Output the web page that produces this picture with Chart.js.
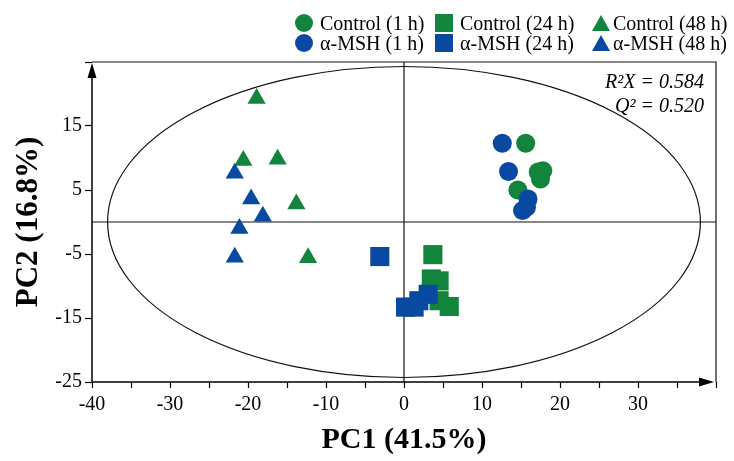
<!DOCTYPE html>
<html>
<head>
<meta charset="utf-8">
<script src="https://cdn.jsdelivr.net/npm/chart.js@4/dist/chart.umd.min.js"></script>
<style>
html,body{margin:0;padding:0;background:#fff;}
#wrap{position:relative;width:734px;height:461px;overflow:hidden;}
#c{position:absolute;left:0;top:0;}
.lg{position:absolute;display:flex;align-items:center;font-family:'Liberation Serif','Times New Roman',serif;font-size:20px;color:#000;white-space:nowrap;line-height:20px;}
.sym{display:inline-block;margin-right:7px;flex:none;}
</style>
</head>
<body>
<div id="wrap">
<canvas id="c" width="734" height="461"></canvas>
</div>
<script>
// ---------- data ----------
const seriesNames = ['Control (1 h)', 'Control (24 h)', 'Control (48 h)', 'α-MSH (1 h)', 'α-MSH (24 h)', 'α-MSH (48 h)'];
const GREEN = '#13843c';
const BLUE = '#0a49a2';

const control1h_x = [15.6, 17.8, 17.5, 17.2, 14.6];
const control1h_y = [12.3, 8.0, 6.7, 7.8, 5.0];
const msh1h_x = [12.6, 13.4, 15.9, 15.7, 15.2];
const msh1h_y = [12.3, 7.9, 3.6, 2.3, 1.8];

const control24h_x = [3.7, 3.5, 4.5, 5.8, 4.5];
const control24h_y = [-5.1, -8.9, -9.2, -13.2, -12.3];
const msh24h_x = [-3.1, 3.1, 1.9, 0.2, 1.3];
const msh24h_y = [-5.4, -11.3, -12.3, -13.3, -13.3];

const control48h_x = [-18.9, -20.6, -16.2, -13.8, -12.3];
const control48h_y = [19.3, 9.6, 9.8, 2.8, -5.6];
const msh48h_x = [-21.7, -19.6, -18.1, -21.1, -21.7];
const msh48h_y = [7.6, 3.6, 0.9, -1.0, -5.5];

const xTickValues = [-40, -35, -30, -25, -20, -15, -10, -5, 0, 5, 10, 15, 20, 25, 30, 35, 40];
const xTickLabels = ['-40', '', '-30', '', '-20', '', '-10', '', '0', '', '10', '', '20', '', '30', '', ''];
const yTickValues = [-25, -15, -5, 5, 15, 25];
const yTickLabels = ['-25', '-15', '-5', '5', '15', ''];

const xTitle = 'PC1 (41.5%)';
const yTitle = 'PC2 (16.8%)';
const statLines = ['R²X = 0.584', 'Q² = 0.520'];
const ellipseA = 38.0;   // semi-axis along PC1
const ellipseB = 24.3;   // semi-axis along PC2

// ---------- helpers ----------
const pts = (xs, ys) => xs.map((v, i) => ({x: v, y: ys[i]}));
const SERIF = "'Liberation Serif','Times New Roman',serif";

const datasets = [
  {label: seriesNames[0], data: pts(control1h_x, control1h_y), pointStyle: 'circle', pointRadius: 9.5, backgroundColor: GREEN, order: 1},
  {label: seriesNames[1], data: pts(control24h_x, control24h_y), pointStyle: 'rect', pointRadius: 13.5, backgroundColor: GREEN, order: 1},
  {label: seriesNames[2], data: pts(control48h_x, control48h_y), pointStyle: 'triangle', pointRadius: 10.5, backgroundColor: GREEN, order: 1},
  {label: seriesNames[3], data: pts(msh1h_x, msh1h_y), pointStyle: 'circle', pointRadius: 9.5, backgroundColor: BLUE, order: 0},
  {label: seriesNames[4], data: pts(msh24h_x, msh24h_y), pointStyle: 'rect', pointRadius: 13.5, backgroundColor: BLUE, order: 0},
  {label: seriesNames[5], data: pts(msh48h_x, msh48h_y), pointStyle: 'triangle', pointRadius: 10.5, backgroundColor: BLUE, order: 0},
];
datasets.forEach(d => { d.borderWidth = 0; d.borderColor = d.backgroundColor; d.pointHoverRadius = d.pointRadius; });

// ---------- decorations plugin ----------
const decor = {
  id: 'decor',
  beforeDatasetsDraw(chart) {
    const {ctx, chartArea: a, scales: {x, y}} = chart;
    const x0 = x.getPixelForValue(0), y0 = y.getPixelForValue(0);
    ctx.save();
    ctx.strokeStyle = '#111';
    ctx.lineWidth = 1.2;
    // frame top & right
    ctx.beginPath();
    ctx.moveTo(a.left, a.top); ctx.lineTo(a.right, a.top); ctx.lineTo(a.right, a.bottom);
    ctx.stroke();
    // cross lines
    ctx.beginPath();
    ctx.moveTo(x0, a.top); ctx.lineTo(x0, a.bottom);
    ctx.moveTo(a.left, y0); ctx.lineTo(a.right, y0);
    ctx.stroke();
    // confidence ellipse
    const rx = x.getPixelForValue(ellipseA) - x0;
    const ry = y0 - y.getPixelForValue(ellipseB);
    ctx.beginPath();
    ctx.ellipse(x0, y0, rx, ry, 0, 0, Math.PI * 2);
    ctx.stroke();
    // axes with arrows
    ctx.lineWidth = 1.5;
    ctx.strokeStyle = '#000';
    ctx.beginPath();
    ctx.moveTo(a.left, a.bottom); ctx.lineTo(a.left, a.top + 8);
    ctx.moveTo(a.left, a.bottom); ctx.lineTo(a.right - 8, a.bottom);
    ctx.stroke();
    ctx.fillStyle = '#000';
    ctx.beginPath();
    ctx.moveTo(a.left, a.top + 1); ctx.lineTo(a.left - 4.5, a.top + 16); ctx.lineTo(a.left + 4.5, a.top + 16); ctx.closePath();
    ctx.fill();
    ctx.beginPath();
    ctx.moveTo(a.right - 2, a.bottom); ctx.lineTo(a.right - 17, a.bottom - 4.5); ctx.lineTo(a.right - 17, a.bottom + 4.5); ctx.closePath();
    ctx.fill();
    ctx.restore();
  },
  afterDatasetsDraw(chart) {
    const {ctx, chartArea: a} = chart;
    ctx.save();
    ctx.fillStyle = '#000';
    ctx.font = 'italic 20px ' + SERIF;
    ctx.textAlign = 'right';
    ctx.textBaseline = 'alphabetic';
    ctx.fillText(statLines[0], a.right - 12, a.top + 26);
    ctx.fillText(statLines[1], a.right - 12, a.top + 50);
    ctx.restore();
  }
};

// ---------- chart ----------
new Chart(document.getElementById('c'), {
  type: 'scatter',
  data: {datasets},
  options: {
    responsive: false,
    animation: false,
    events: [],
    layout: {padding: {top: 62, right: 18, left: 0, bottom: 0}},
    plugins: {legend: {display: false}, tooltip: {enabled: false}},
    scales: {
      x: {
        type: 'linear', min: -40, max: 40,
        afterBuildTicks: s => { s.ticks = xTickValues.map(v => ({value: v})); },
        afterFit: s => { s.height = 79; },
        border: {display: false},
        grid: {drawOnChartArea: false, drawTicks: true, tickLength: 6, tickColor: '#000', tickWidth: 1.2},
        ticks: {
          autoSkip: false, maxRotation: 0, padding: 5, color: '#000',
          font: {family: SERIF, size: 20},
          callback: (v) => { const i = xTickValues.indexOf(v); return i >= 0 ? xTickLabels[i] : ''; }
        },
        title: {display: true, text: xTitle, color: '#000', font: {family: SERIF, size: 30, weight: 'bold'}, padding: {top: 0, bottom: 3}}
      },
      y: {
        type: 'linear', min: -25, max: 25,
        afterBuildTicks: s => { s.ticks = yTickValues.map(v => ({value: v})); },
        afterFit: s => { s.width = 92; },
        border: {display: false},
        grid: {drawOnChartArea: false, drawTicks: true, tickLength: 7, tickColor: '#000', tickWidth: 1.2},
        ticks: {
          autoSkip: false, padding: 3, color: '#000',
          font: {family: SERIF, size: 20},
          callback: (v) => { const i = yTickValues.indexOf(v); return i >= 0 ? yTickLabels[i] : ''; }
        },
        title: {display: true, text: yTitle, color: '#000', font: {family: SERIF, size: 31, weight: 'bold'}, padding: {top: 10, bottom: 0}}
      }
    }
  },
  plugins: [decor]
});

// ---------- legend (HTML, built from series arrays) ----------
const legendColors = [GREEN, GREEN, GREEN, BLUE, BLUE, BLUE];
const legendShapes = ['circle', 'rect', 'triangle', 'circle', 'rect', 'triangle'];
const colLeft = [295, 435, 592];
const rowTop = [13, 33];
const wrap = document.getElementById('wrap');
seriesNames.forEach((name, i) => {
  const el = document.createElement('div');
  el.className = 'lg';
  el.style.left = colLeft[i % 3] + 'px';
  el.style.top = rowTop[Math.floor(i / 3)] + 'px';
  const s = document.createElement('span');
  s.className = 'sym';
  const c = legendColors[i];
  if (legendShapes[i] === 'circle') {
    s.style.cssText += `width:18px;height:18px;border-radius:50%;background:${c};`;
  } else if (legendShapes[i] === 'rect') {
    s.style.cssText += `width:18px;height:18px;background:${c};`;
  } else {
    s.style.cssText += `width:0;height:0;border-left:9px solid transparent;border-right:9px solid transparent;border-bottom:16px solid ${c};margin-right:3px;`;
  }
  el.appendChild(s);
  const t = document.createElement('span');
  t.textContent = name;
  el.appendChild(t);
  wrap.appendChild(el);
});
</script>
</body>
</html>
